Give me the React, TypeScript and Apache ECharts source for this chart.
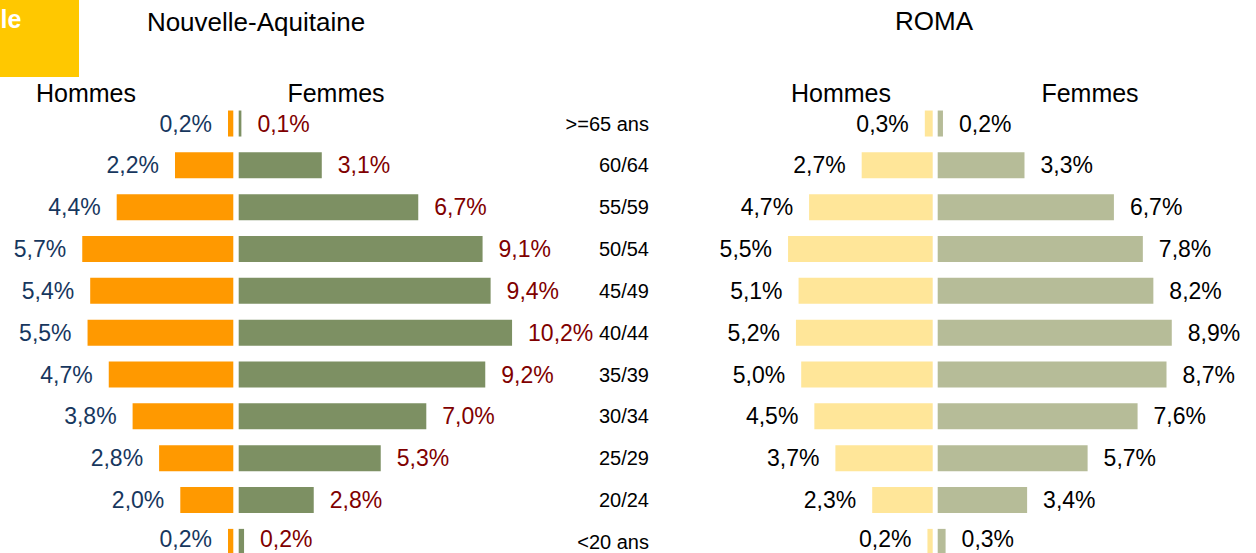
import React, { useEffect, useRef } from "react";
import * as echarts from "echarts";

const categories = [">=65 ans", "60/64", "55/59", "50/54", "45/49", "40/44", "35/39", "30/34", "25/29", "20/24", "<20 ans"];
const naHommes = [0.2, 2.2, 4.4, 5.7, 5.4, 5.5, 4.7, 3.8, 2.8, 2.0, 0.2];
const naFemmes = [0.1, 3.1, 6.7, 9.1, 9.4, 10.2, 9.2, 7.0, 5.3, 2.8, 0.2];
const romaHommes = [0.3, 2.7, 4.7, 5.5, 5.1, 5.2, 5.0, 4.5, 3.7, 2.3, 0.2];
const romaFemmes = [0.2, 3.3, 6.7, 7.8, 8.2, 8.9, 8.7, 7.6, 5.7, 3.4, 0.3];

const FONT = "'Liberation Sans', Arial, Helvetica, sans-serif";

const fmt = (p: any) => Number(p.value).toFixed(1).replace(".", ",") + "%";

export default function App() {
  const ref = useRef<HTMLDivElement>(null);
  useEffect(() => {
    if (!ref.current) return;
    const chart = echarts.init(ref.current, undefined, { renderer: "svg" });
    const top = 102.6;
    const height = 460.2;
    const scaleNAH = 26.5;
    const scaleNAF = 26.8;
    const scaleRO = 26.3;
    const grids = [
      { left: 233.3 - 8 * scaleNAH, top, width: 8 * scaleNAH, height, containLabel: false, outerBoundsMode: "none" },
      { left: 238.7, top, width: 12 * scaleNAF, height, containLabel: false, outerBoundsMode: "none" },
      { left: 932.7 - 8 * scaleRO, top, width: 8 * scaleRO, height, containLabel: false, outerBoundsMode: "none" },
      { left: 937.7, top, width: 12 * scaleRO, height, containLabel: false, outerBoundsMode: "none" },
    ];
    const xAxes = [0, 1, 2, 3].map((i) => ({
      type: "value",
      gridIndex: i,
      min: 0,
      max: i % 2 === 0 ? 8 : 12,
      inverse: i % 2 === 0,
      show: false,
    }));
    const naFemRight = 238.7 + 12 * scaleNAF;
    const yAxes = [0, 1, 2, 3].map((i) => ({
      type: "category",
      gridIndex: i,
      data: categories,
      inverse: true,
      show: i === 1,
      position: "right",
      axisLine: { show: false },
      axisTick: { show: false },
      splitLine: { show: false },
      axisLabel: {
        show: i === 1,
        align: "right",
        margin: 649 - naFemRight,
        color: "#000",
        fontSize: 20,
        lineHeight: 20,
        fontFamily: FONT,
      },
    }));
    const mk = (idx: number, data: number[], color: string, labelColor: string, pos: string) => ({
      type: "bar",
      xAxisIndex: idx,
      yAxisIndex: idx,
      data: data.map((v, i) => (i === data.length - 1 ? { value: v, label: { offset: [0, -3] } } : v)),
      barWidth: 26,
      itemStyle: { color },
      label: {
        show: true,
        position: pos,
        distance: 16,
        formatter: fmt,
        color: labelColor,
        fontSize: 23,
        lineHeight: 21,
        fontFamily: FONT,
      },
    });
    const txt = (text: string, x: number, y: number, size: number, color = "#000", align = "center", weight = "normal") => ({
      type: "text",
      x,
      y,
      style: {
        text,
        fill: color,
        font: `${weight} ${size}px ${FONT}`,
        align,
        verticalAlign: "middle",
      },
    });
    chart.setOption({
      animation: false,
      backgroundColor: "#fff",
      grid: grids,
      xAxis: xAxes,
      yAxis: yAxes,
      series: [
        mk(0, naHommes, "#FF9900", "#17375E", "left"),
        mk(1, naFemmes, "#7D9063", "#7F0000", "right"),
        mk(2, romaHommes, "#FFE699", "#000000", "left"),
        mk(3, romaFemmes, "#B6BC98", "#000000", "right"),
      ],
      graphic: [
        { type: "rect", shape: { x: 0, y: 0, width: 79, height: 77 }, style: { fill: "#FFC800" } },
        txt("le", 0.5, 19, 25, "#FFFFFF", "left", "bold"),
        txt("Nouvelle-Aquitaine", 256, 22, 26),
        txt("ROMA", 934, 21, 26),
        txt("Hommes", 86, 93, 25),
        txt("Femmes", 336, 93, 25),
        txt("Hommes", 841, 93, 25),
        txt("Femmes", 1090, 93, 25),
      ],
    });
    return () => chart.dispose();
  }, []);
  return <div ref={ref} style={{ position: "absolute", left: 0, top: 0, width: 1256, height: 553 }} />;
}
